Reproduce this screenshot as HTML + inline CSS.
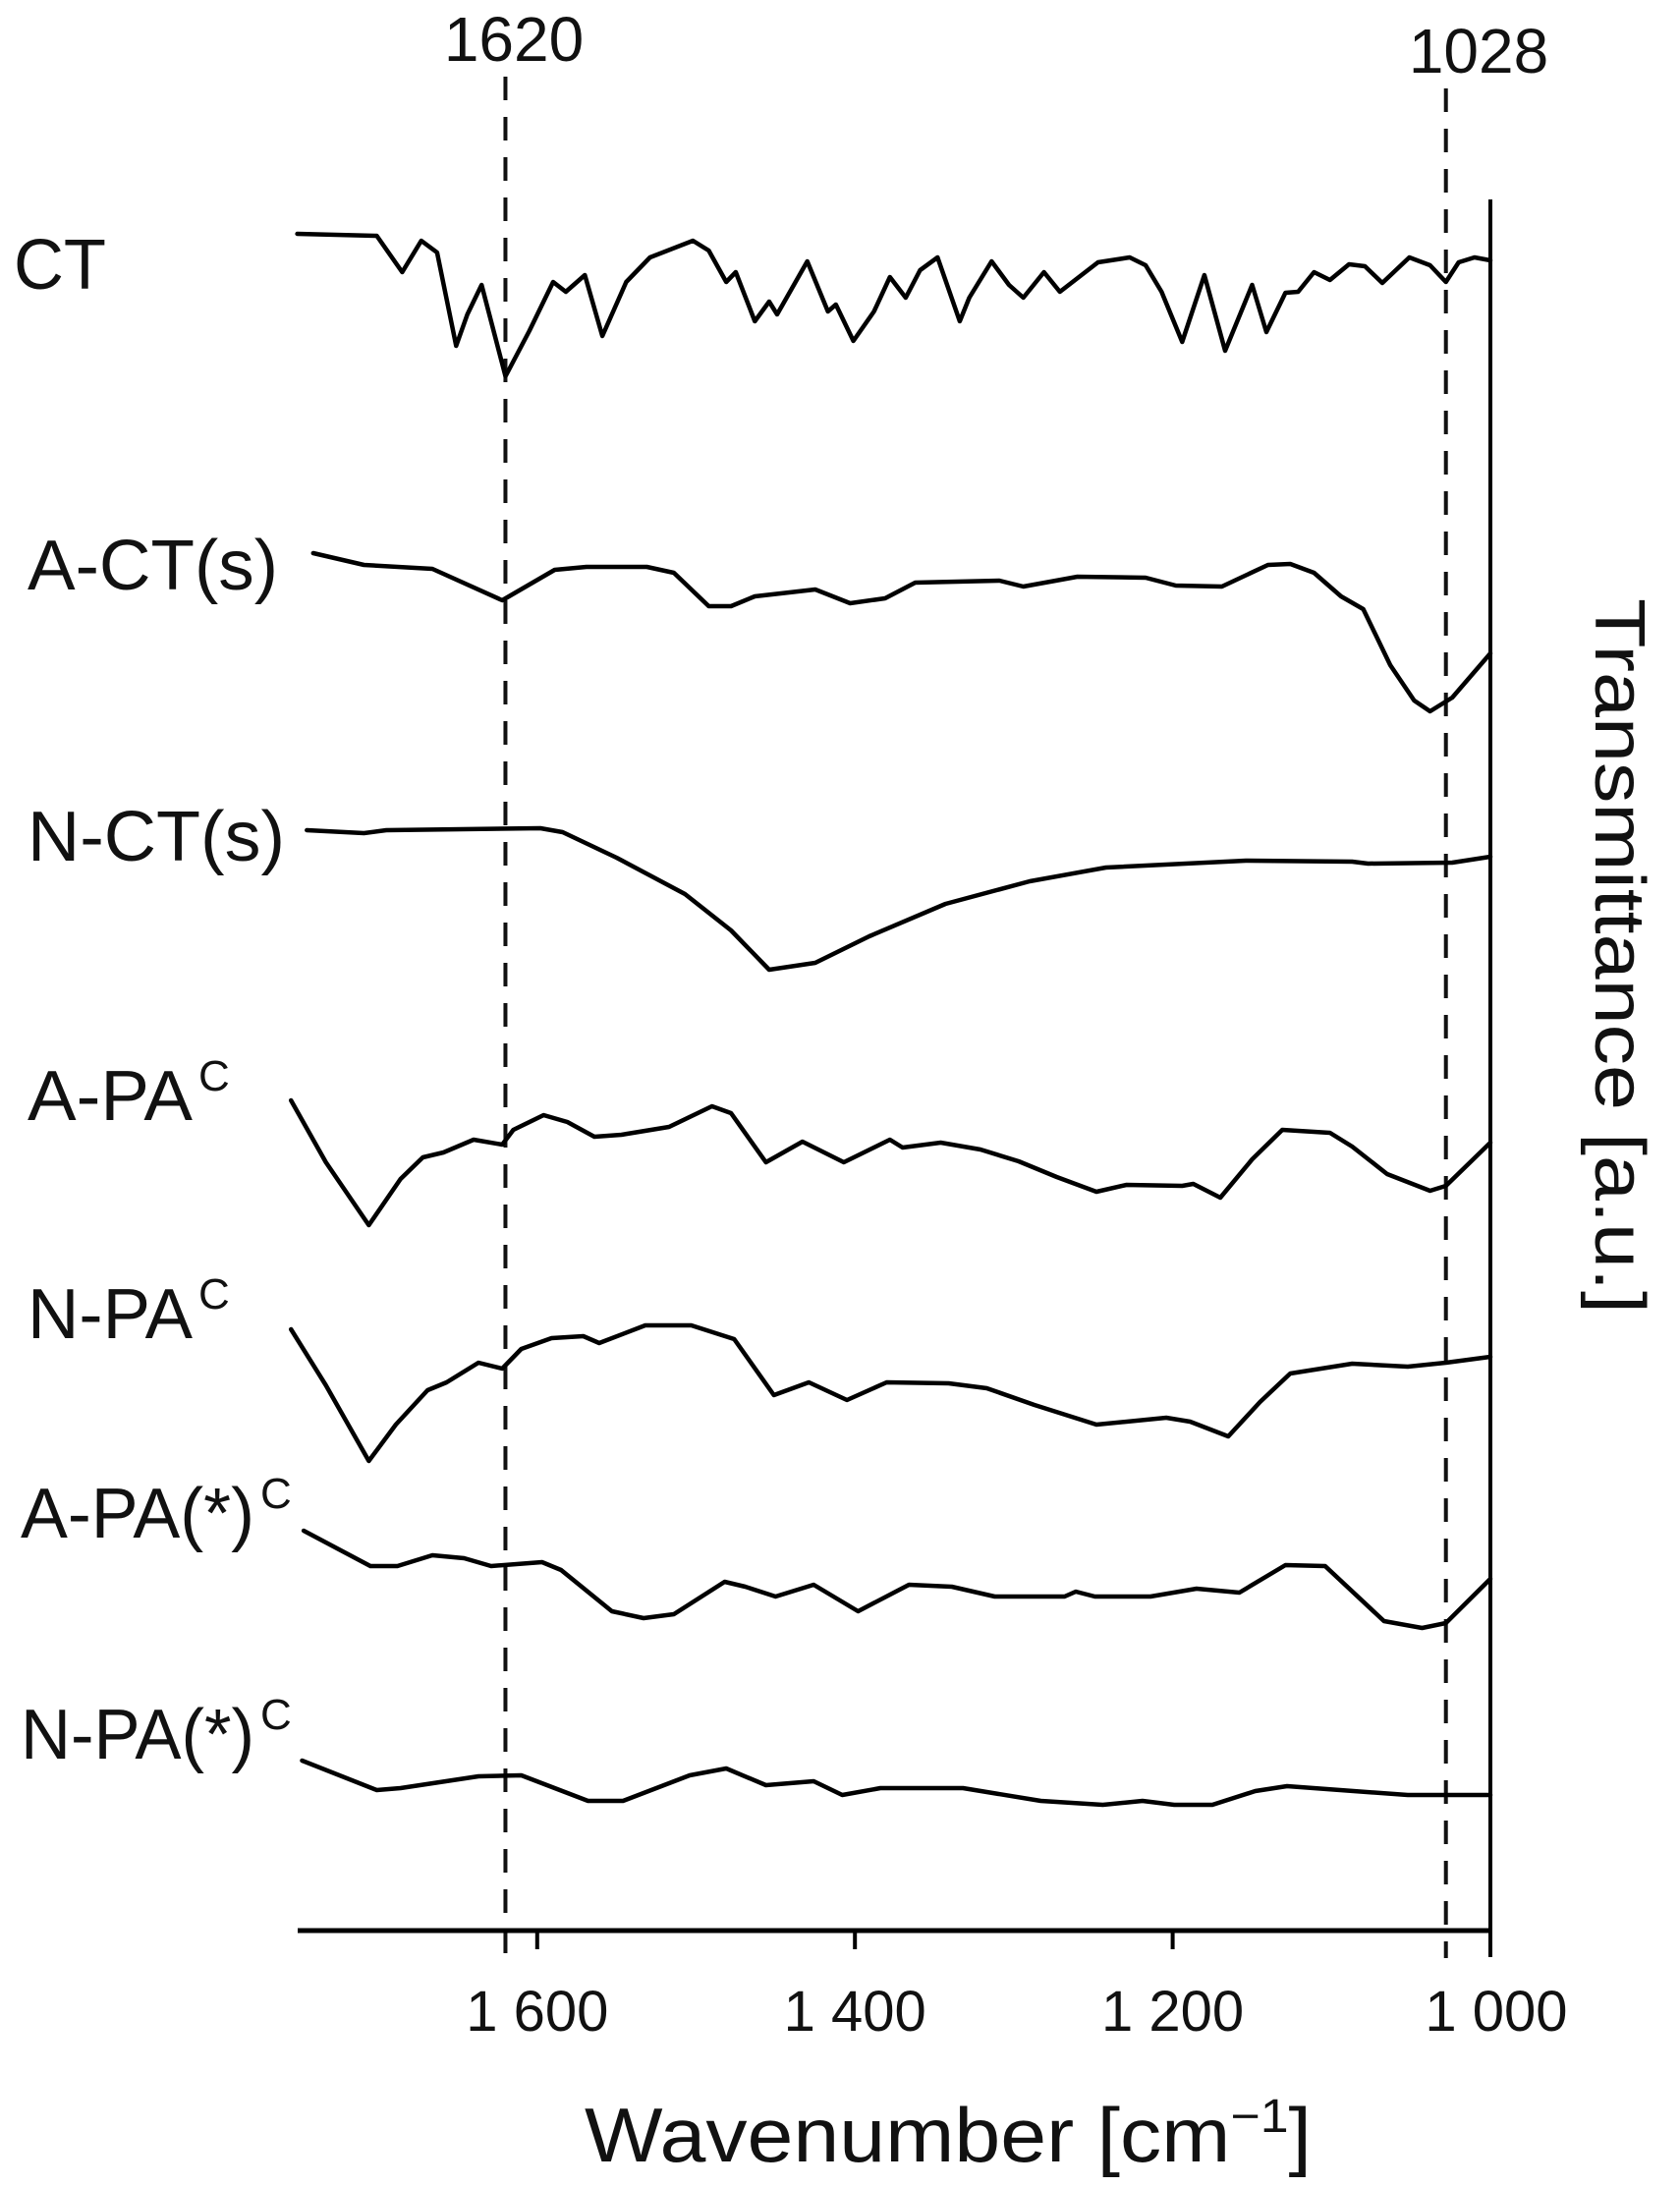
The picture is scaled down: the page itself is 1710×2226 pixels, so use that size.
<!DOCTYPE html>
<html>
<head>
<meta charset="utf-8">
<style>
  html,body{margin:0;padding:0;background:#fff;}
  svg{display:block;}
  text{font-family:"Liberation Sans",sans-serif;fill:#111;}
</style>
</head>
<body>
<svg id="chart" width="1710" height="2226" viewBox="0 0 1710 2226" xmlns="http://www.w3.org/2000/svg">
  <g id="guides"></g>
  <g id="axes"></g>
  <g id="series"></g>
  <g id="labels"></g>
</svg>
<script>
// ---- data ----
const xTicks = [1600, 1400, 1200, 1000];
const xTickLabels = ["1 600", "1 400", "1 200", "1 000"];
const markerLines = [1620, 1028];
const markerLabels = ["1620", "1028"];

const ctWn = [1751,1701,1685,1673,1663,1651,1644,1635,1620,1605,1590,1582,1570,1559,1544,1529,1502,1492,1481,1475,1463,1454,1449,1430,1417,1412,1401,1388,1378,1368,1359,1348,1334,1328,1314,1303,1294,1281,1271,1247,1227,1217,1207,1194,1180,1167,1150,1141,1129,1121,1111,1101,1089,1079,1068,1051,1038,1028,1020,1010,1000];
const ctT = [172.7,172.5,168.8,172,170.8,161.3,164.5,167.5,158.2,162.8,167.8,166.8,168.5,162.3,167.8,170.3,172,171,167.8,168.8,163.8,165.8,164.5,169.9,164.8,165.5,161.8,164.8,168.3,166.2,169,170.3,163.8,166.2,169.9,167.5,166.2,168.8,166.8,169.8,170.3,169.5,166.8,161.7,168.5,160.8,167.5,162.7,166.7,166.8,168.8,168,169.6,169.4,167.7,170.3,169.5,167.8,169.8,170.3,170];

const actWn = [1741,1709,1666,1622,1589,1569,1531,1514,1492,1478,1463,1425,1403,1381,1362,1309,1294,1260,1217,1198,1169,1140,1126,1111,1094,1080,1063,1048,1038,1024,1000];
const actT = [140.2,139,138.6,135.4,138.5,138.8,138.8,138.2,134.8,134.8,135.8,136.5,135.1,135.6,137.2,137.4,136.8,137.8,137.7,136.9,136.8,139,139.1,138.2,135.8,134.5,128.8,125.2,124.1,125.5,130];

const nctWn = [1745,1709,1695,1598,1584,1550,1507,1478,1454,1425,1391,1343,1290,1242,1154,1087,1077,1024,1000];
const nctT = [112,111.7,112,112.2,111.8,109.2,105.5,101.8,97.8,98.5,101.2,104.5,106.8,108.2,108.9,108.8,108.6,108.7,109.3];

const apaWn = [1755,1733,1706,1686,1672,1659,1640,1622,1615,1596,1581,1564,1547,1517,1490,1478,1456,1433,1407,1378,1370,1346,1321,1297,1273,1248,1229,1194,1187,1170,1150,1131,1101,1087,1065,1038,1028,1000];
const apaT = [84.5,78.2,71.8,76.5,78.7,79.2,80.5,80,81.5,83,82.3,80.8,81,81.8,83.9,83.2,78.2,80.3,78.2,80.5,79.7,80.2,79.5,78.3,76.7,75.2,75.9,75.8,76,74.6,78.5,81.5,81.2,79.8,77,75.3,75.8,80.2];

const npaWn = [1755,1733,1706,1689,1669,1657,1637,1622,1610,1591,1571,1561,1532,1503,1476,1451,1429,1405,1380,1341,1317,1287,1248,1204,1189,1165,1145,1126,1087,1052,1028,1000];
const npaT = [61.2,55.5,47.8,51.5,55,55.8,57.8,57.2,59.2,60.3,60.5,59.8,61.6,61.6,60.2,54.5,55.8,54,55.8,55.7,55.2,53.5,51.5,52.2,51.8,50.3,53.8,56.7,57.7,57.4,57.8,58.4];

const apasWn = [1747,1705,1688,1666,1646,1629,1597,1585,1553,1533,1514,1482,1469,1450,1426,1398,1366,1339,1312,1268,1261,1249,1214,1185,1158,1129,1104,1067,1043,1028,1000];
const apasT = [40.7,37.1,37.1,38.2,37.9,37.1,37.5,36.7,32.5,31.8,32.2,35.5,35,34,35.2,32.5,35.2,35,34,34,34.5,34,34,34.8,34.4,37.2,37.1,31.5,30.8,31.3,35.8];

const npasWn = [1748,1701,1686,1637,1610,1568,1546,1504,1481,1456,1426,1408,1384,1332,1283,1244,1219,1199,1175,1148,1128,1052,1000];
const npasT = [17.3,14.3,14.5,15.7,15.8,13.2,13.2,15.8,16.5,14.8,15.2,13.8,14.5,14.5,13.2,12.8,13.2,12.8,12.8,14.2,14.7,13.8,13.8];

const seriesNames = ["CT","A-CT(s)","N-CT(s)","A-PA","N-PA","A-PA(*)","N-PA(*)"];

// ---- scales ----
const X0 = 1517, PXW = 1.617, Y0 = 1965, PXT = 10;
function xs(wn){ return X0 - (wn - 1000) * PXW; }
function ys(t){ return Y0 - t * PXT; }

const NS = "http://www.w3.org/2000/svg";
function mk(tag, attrs, parent){
  const e = document.createElementNS(NS, tag);
  for (const k in attrs) e.setAttribute(k, attrs[k]);
  parent.appendChild(e);
  return e;
}
const gGuides = document.getElementById('guides');
const gAxes = document.getElementById('axes');
const gSeries = document.getElementById('series');
const gLabels = document.getElementById('labels');

// marker dashed lines
const markerTop = [78, 90];
const markerLabelX = [523, 1505];
const markerLabelY = [62, 74];
markerLines.forEach((wn, i) => {
  const l = mk('line', {x1: xs(wn), x2: xs(wn), y1: markerTop[i], y2: 1993, stroke: '#111', 'stroke-width': 4, 'stroke-dasharray': '24 17'}, gGuides);
  
  
  const t = mk('text', {x: markerLabelX[i], y: markerLabelY[i], 'font-size': 64, 'text-anchor': 'middle'}, gLabels);
  t.textContent = markerLabels[i];
  
  
});

// axes
const xAxis = mk('line', {x1: 303, x2: xs(1000) + 2, y1: Y0, y2: Y0, stroke: '#000', 'stroke-width': 5}, gAxes);


const yAxis = mk('line', {x1: xs(1000), x2: xs(1000), y1: 203, y2: 1992, stroke: '#000', 'stroke-width': 4}, gAxes);



xTicks.forEach((v, i) => {
  if (v !== 1000) {
    const tk = mk('line', {x1: xs(v), x2: xs(v), y1: Y0, y2: 1984, stroke: '#000', 'stroke-width': 4}, gAxes);
    
    
  }
  const lb = mk('text', {x: xs(v) + (v === 1000 ? 6 : 0), y: 2067, 'font-size': 58, 'text-anchor': 'middle'}, gAxes);
  lb.textContent = xTickLabels[i];
  
  
});

const xt = mk('text', {x: 965, y: 2200, 'font-size': 78, 'text-anchor': 'middle', textLength: 740, lengthAdjust: 'spacingAndGlyphs'}, gAxes);
xt.innerHTML = 'Wavenumber [cm<tspan dy="-30" font-size="48">−1</tspan><tspan dy="30">]</tspan>';



const yt = mk('text', {x: 0, y: 0, 'font-size': 72, 'text-anchor': 'middle', textLength: 728, lengthAdjust: 'spacingAndGlyphs', transform: 'translate(1624,973) rotate(90)'}, gAxes);
yt.textContent = 'Transmittance [a.u.]';



// series
const allWn = [ctWn, actWn, nctWn, apaWn, npaWn, apasWn, npasWn];
const allT = [ctT, actT, nctT, apaT, npaT, apasT, npasT];
allWn.forEach((wns, si) => {
  const ts = allT[si];
  let d = '';
  wns.forEach((w, j) => { d += (j ? 'L' : 'M') + xs(w).toFixed(1) + ' ' + ys(ts[j]).toFixed(1); });
  const p = mk('path', {d: d, fill: 'none', stroke: '#000', 'stroke-width': 4.5, 'stroke-linejoin': 'round', 'stroke-linecap': 'round'}, gSeries);
  
  
});

// series labels
const labelText = ["CT","A-CT(s)","N-CT(s)","A-PA","N-PA","A-PA(*)","N-PA(*)"];
const labelX = [14, 28, 28, 28, 28, 21, 21];
const labelY = [294, 600, 876, 1140, 1362, 1565, 1790];
const labelW = [94, 255, 262, 168, 168, 238, 238];
const labelSup = [false, false, false, true, true, true, true];
labelText.forEach((s, i) => {
  const t = mk('text', {x: labelX[i], y: labelY[i], 'font-size': 72, textLength: labelW[i], lengthAdjust: 'spacingAndGlyphs'}, gLabels);
  t.textContent = s;
  
  
  if (labelSup[i]) {
    const c = mk('text', {x: labelX[i] + labelW[i] + 6, y: labelY[i] - 30, 'font-size': 44}, gLabels);
    c.textContent = 'C';
    
    
  }
});
</script>
</body>
</html>
